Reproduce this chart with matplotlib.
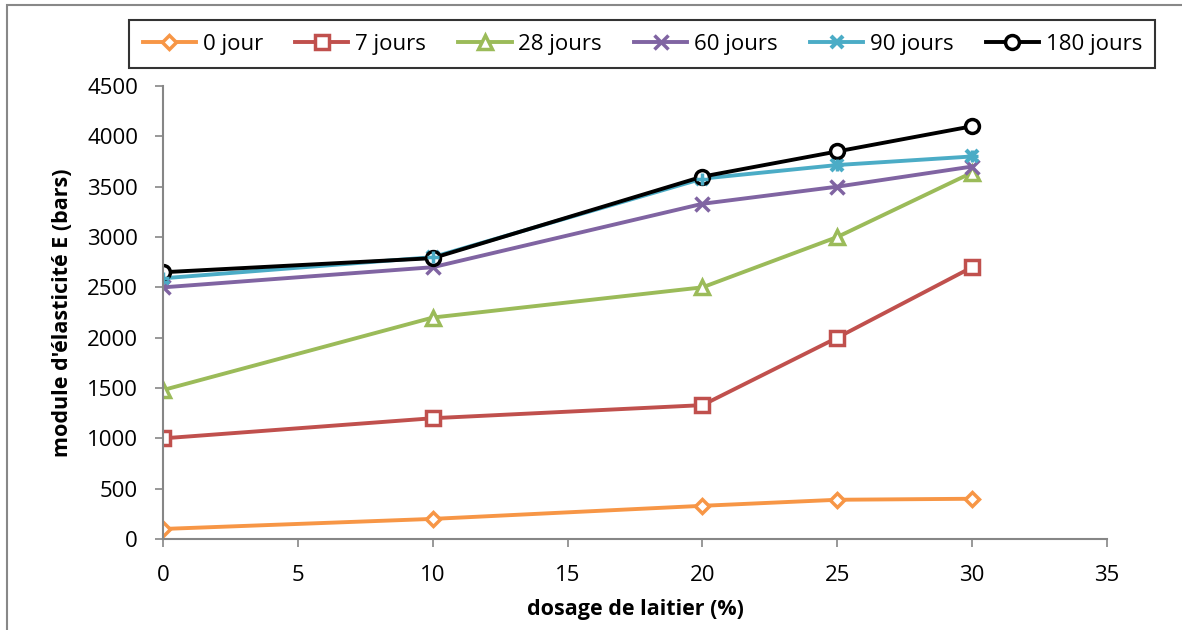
import matplotlib
matplotlib.use("Agg")
import matplotlib.pyplot as plt
from matplotlib.patches import Rectangle

plt.rcParams['font.family'] = ['Open Sans', 'DejaVu Sans']

dosage = [0, 10, 20, 25, 30]
series_names = ["0 jour", "7 jours", "28 jours", "60 jours", "90 jours", "180 jours"]
j0 = [100, 200, 330, 390, 400]
j7 = [1000, 1200, 1330, 2000, 2700]
j28 = [1480, 2200, 2500, 3000, 3640]
j60 = [2500, 2700, 3330, 3500, 3700]
j90 = [2590, 2800, 3580, 3715, 3800]
j180 = [2650, 2790, 3600, 3850, 4100]
xticks = [0, 5, 10, 15, 20, 25, 30, 35]
yticks = list(range(0, 4501, 500))

fig = plt.figure(figsize=(11.82, 6.3), dpi=100)
ax = fig.add_axes([0.138, 0.1444, 0.7985, 0.7191])

styles = [
    (j0, "#F79646", "D", 7, 2.5),
    (j7, "#C0504D", "s", 10, 2.5),
    (j28, "#9BBB59", "^", 10, 2.5),
    (j60, "#8064A2", "x", 10, 2.5),
    (j90, "#4BACC6", "x", 9, 3),
    (j180, "#000000", "o", 10, 3),
]
for (vals, col, mk, ms, lw), name in zip(styles, series_names):
    if mk == "x":
        ax.plot(dosage, vals, color=col, lw=2.8, marker=mk, ms=ms, mew=lw, label=name)
    else:
        ax.plot(dosage, vals, color=col, lw=2.8, marker=mk, ms=ms, mew=2.5,
                mfc="white", mec=col, label=name)
ax.plot(dosage, j90, color="#4BACC6", lw=0, marker="+", ms=9, mew=2.5)

ax.set_xlim(0, 35)
ax.set_ylim(0, 4500)
ax.set_xticks(xticks)
ax.set_yticks(yticks)
for s in ["top", "right"]:
    ax.spines[s].set_visible(False)
for s in ["left", "bottom"]:
    ax.spines[s].set_color("#868686")
    ax.spines[s].set_linewidth(1.5)
ax.tick_params(direction="out", length=6, width=1.2, color="#868686",
               labelsize=16)
ax.tick_params(axis="x", pad=13)
ax.tick_params(axis="y", pad=12)
ax.set_xlabel("dosage de laitier (%)", fontsize=15.5, fontweight="bold", labelpad=9)
ax.set_ylabel("module d'élasticité E (bars)", fontsize=15.5, fontweight="bold", labelpad=10)

leg = fig.legend(loc="center", bbox_to_anchor=(0.5435, 0.930), ncol=6,
                 fontsize=16, frameon=True, fancybox=False, edgecolor="black",
                 handlelength=2.4, columnspacing=1.45, handletextpad=0.3,
                 borderpad=0.6, borderaxespad=0)
leg.get_frame().set_linewidth(1.5)

fig.patches.append(Rectangle((0.006, -0.01), 1.2, 1.002, transform=fig.transFigure,
                             fill=False, edgecolor="#888888", lw=1.5))

fig.savefig("out.png", dpi=100)
